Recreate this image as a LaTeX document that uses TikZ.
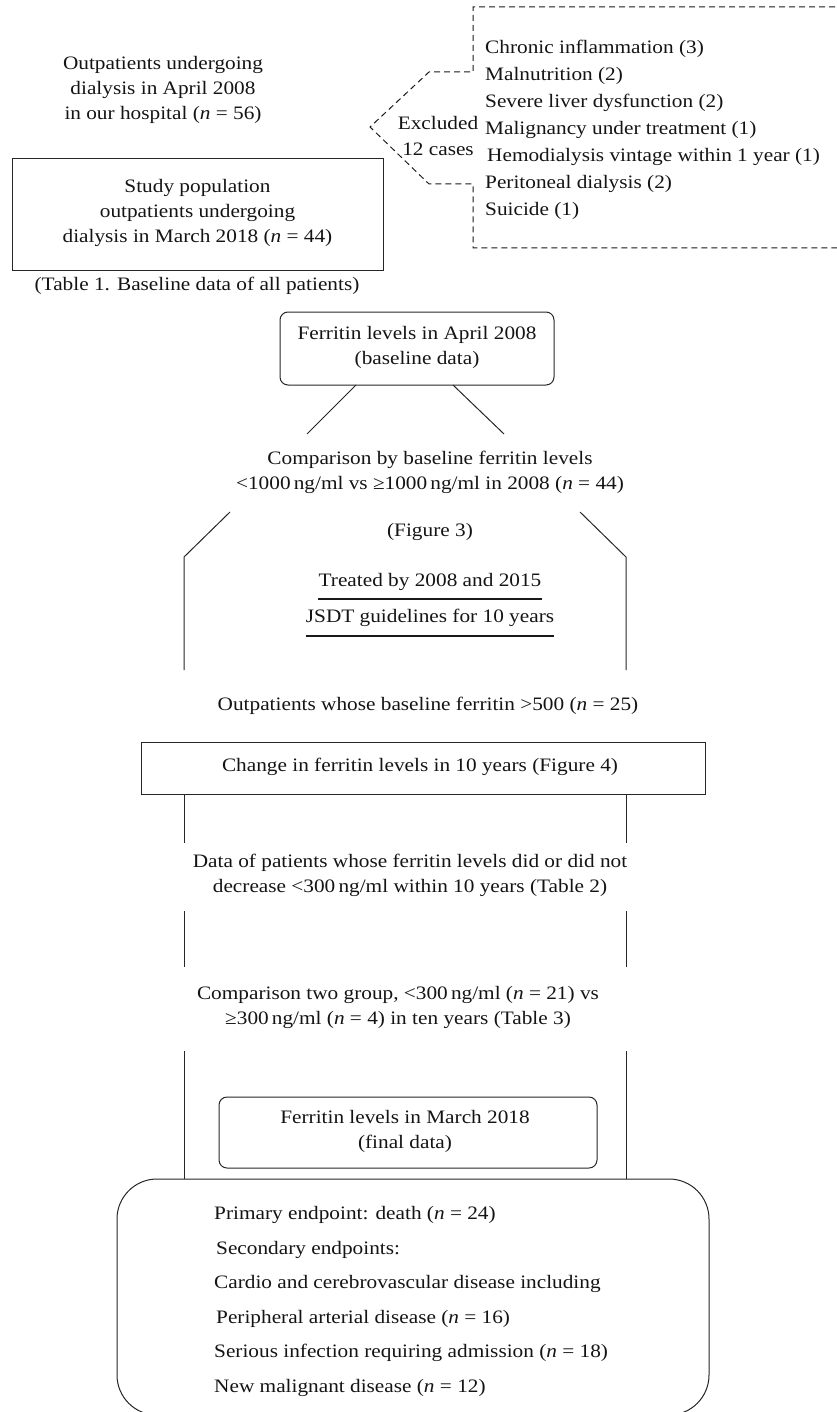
\documentclass[tikz,border=0pt]{standalone}
\usepackage{fontspec}
\setmainfont[FakeStretch=1.12]{Liberation Serif}
\usetikzlibrary{calc}
\begin{document}
\begin{tikzpicture}[x=1pt,y=-1pt,
  txt/.style={font=\fontsize{19}{25}\selectfont, inner sep=0pt, align=center, text=black!92},
  lst/.style={font=\fontsize{19}{27}\selectfont, inner sep=0pt, align=left, text=black!92},
  ends/.style={font=\fontsize{19}{34.6}\selectfont, inner sep=0pt, align=left, text=black!92},
  boxed/.style={draw=black!85, line width=1pt},
  rbox/.style={boxed, rounded corners=8pt},
  lne/.style={draw=black!85, line width=1pt},
  dsh/.style={draw=black!90, line width=1pt, dash pattern=on 6pt off 4pt},
  ul/.style={draw=black!90, line width=1.6pt}]
\useasboundingbox (0,0) rectangle (837,1412);

% top left
\node[txt] (pop) at (163,90) {Outpatients undergoing\\dialysis in April 2008\\in our hospital (\textit{n} = 56)};
\node[boxed, minimum width=371pt, minimum height=112pt, inner sep=0pt] (study) at (197.5,215) {};
\node[txt] (studyt) at (197.5,212.5) {Study population\\outpatients undergoing\\dialysis in March 2018 (\textit{n} = 44)};
\node[txt] (tab1) at (197,286) {(Table 1. Baseline data of all patients)};

% excluded bracket
\coordinate (e1) at (845,7);
\coordinate (e2) at (473,72);
\coordinate (e3) at (429,72);
\coordinate (tip) at (370,127);
\coordinate (e4) at (429,184);
\coordinate (e5) at (473,184);
\coordinate (e6) at (845,248);
\draw[dsh] (e1) -| (e2) -- (e3) -- (tip) -- (e4) -- (e5) |- (e6);
\node[txt, font=\fontsize{19}{26}\selectfont] (excl) at (438,136) {Excluded\\12 cases};
\node[lst, anchor=west] (list) at (485,130) {Chronic inflammation (3)\\Malnutrition (2)\\Severe liver dysfunction (2)\\Malignancy under treatment (1)\\\hspace*{2pt}Hemodialysis vintage within 1 year (1)\\Peritoneal dialysis (2)\\Suicide (1)};

% ferritin April box
\node[rbox, minimum width=274pt, minimum height=73pt, inner sep=0pt] (fa) at (417,348.5) {};
\node[txt] (fat) at (417,347.5) {Ferritin levels in April 2008\\(baseline data)};
\coordinate (d1a) at (356,385); \coordinate (d1b) at (307,434);
\coordinate (d2a) at (453,385); \coordinate (d2b) at (504,434);
\draw[lne] (d1a) -- (d1b);
\draw[lne] (d2a) -- (d2b);

\node[txt] (cmp1) at (430,472) {Comparison by baseline ferritin levels\\<1000\,ng/ml vs ≥1000\,ng/ml in 2008 (\textit{n} = 44)};

\coordinate (l1) at (230,512); \coordinate (l2) at (184,557); \coordinate (l3) at (184,670);
\coordinate (r1) at (580,512); \coordinate (r2) at (626,557); \coordinate (r3) at (626,670);
\draw[lne] (l1) -- (l2) -- (l3);
\draw[lne] (r1) -- (r2) -- (r3);

\node[txt] (fig3) at (430,532) {(Figure 3)};
\node[txt] (treat) at (430,582) {Treated by 2008 and 2015};
\node[txt] (jsdt) at (430,618) {JSDT guidelines for 10 years};
\draw[ul] ([yshift=-8pt]treat.south west) -- ([yshift=-8pt]treat.south east);
\draw[ul] ([yshift=-9pt]jsdt.south west) -- ([yshift=-9pt]jsdt.south east);

\node[txt] (o25) at (428,706) {Outpatients whose baseline ferritin >500 (\textit{n} = 25)};

\node[boxed, minimum width=564pt, minimum height=52pt, inner sep=0pt] (chg) at (423,768) {};
\node[txt] (chgt) at (420,767) {Change in ferritin levels in 10 years (Figure 4)};

\coordinate (a1) at (184,794); \coordinate (a2) at (184,843);
\coordinate (b1) at (626,794); \coordinate (b2) at (626,843);
\draw[lne] (a1) -- (a2);
\draw[lne] (b1) -- (b2);

\node[txt] (data) at (410,875) {Data of patients whose ferritin levels did or did not\\decrease <300\,ng/ml within 10 years (Table 2)};

\coordinate (a3) at (184,911); \coordinate (a4) at (184,967);
\coordinate (b3) at (626,911); \coordinate (b4) at (626,967);
\draw[lne] (a3) -- (a4);
\draw[lne] (b3) -- (b4);

\node[txt] (cmp2) at (398,1007) {Comparison two group, <300\,ng/ml (\textit{n} = 21) vs\\≥300\,ng/ml (\textit{n} = 4) in ten years (Table 3)};

\coordinate (a5) at (184,1051); \coordinate (a6) at (184,1179);
\coordinate (b5) at (626,1051); \coordinate (b6) at (626,1179);
\draw[lne] (a5) -- (a6);
\draw[lne] (b5) -- (b6);

\node[rbox, minimum width=378pt, minimum height=71pt, inner sep=0pt] (fm) at (408,1132.5) {};
\node[txt] (fmt) at (405,1131) {Ferritin levels in March 2018\\(final data)};

% endpoints box
\draw[boxed, rounded corners=40pt] (117,1179) rectangle (709,1415);
\node[ends, anchor=west] (endp) at (214,1301.5) {Primary endpoint: death (\textit{n} = 24)\\\hspace*{2pt}Secondary endpoints:\\Cardio and cerebrovascular disease including\\\hspace*{2pt}Peripheral arterial disease (\textit{n} = 16)\\Serious infection requiring admission (\textit{n} = 18)\\New malignant disease (\textit{n} = 12)};
\end{tikzpicture}
\end{document}
